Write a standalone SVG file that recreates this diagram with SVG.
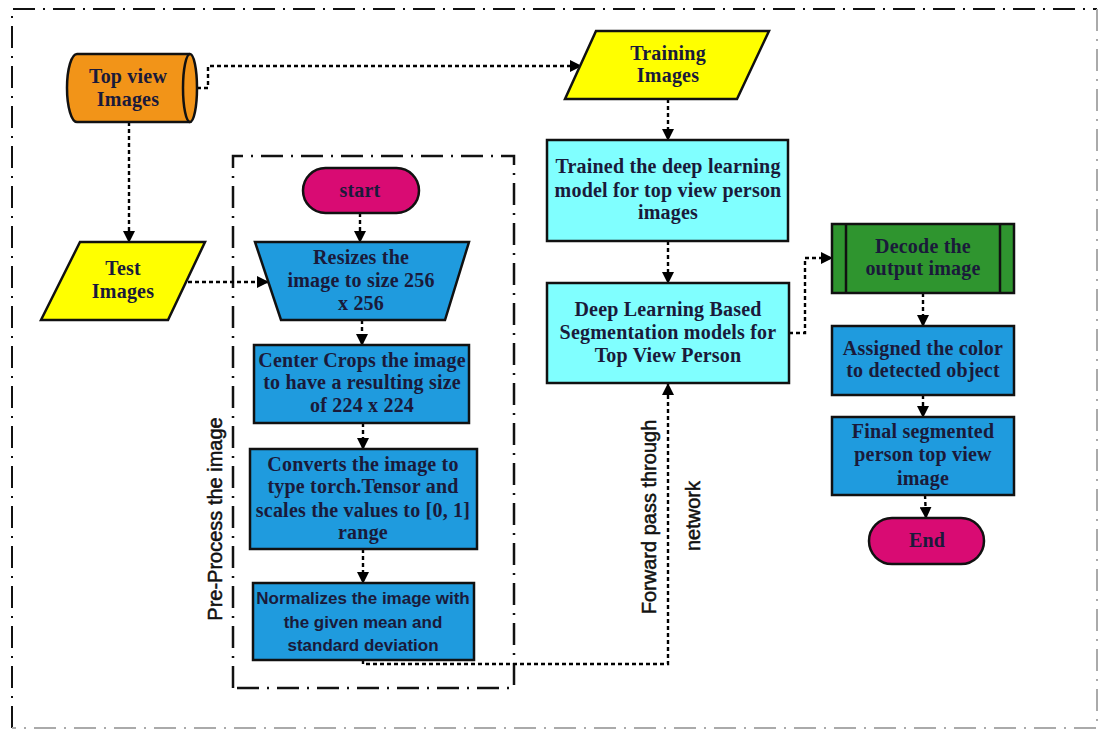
<svg xmlns="http://www.w3.org/2000/svg" width="1100" height="733" viewBox="0 0 1100 733">
<defs>
<marker id="arr" markerWidth="12" markerHeight="12" refX="11" refY="6" orient="auto" markerUnits="userSpaceOnUse">
<path d="M0,0 L12,6 L0,12 Z" fill="#000"/>
</marker>
<style>
.node{stroke:#111;stroke-width:2.5}
.t{font-family:"Liberation Serif","Times New Roman",serif;font-weight:bold;font-size:20px;fill:#1a1a3a;text-anchor:middle;letter-spacing:0.2px}
.ts{font-family:"Liberation Sans",Arial,sans-serif;font-weight:bold;font-size:17px;fill:#1a1a3a;text-anchor:middle}
.lbl{font-family:"Liberation Sans",Arial,sans-serif;font-size:20px;fill:#111;stroke:#111;stroke-width:0.5;text-anchor:middle}
.c{fill:none;stroke:#000;stroke-width:2.4;stroke-dasharray:4 3}
.border{fill:none;stroke:#111;stroke-width:2;stroke-dasharray:22 8 2 8}
.orange{fill:#F29418}.yellow{fill:#FFFF00}.mag{fill:#D90B73}.cyan{fill:#80FFFF}.blue{fill:#1F9BDE}.green{fill:#2F952F}
</style>
</defs>
<rect width="1100" height="733" fill="#fff"/>
<g id="frame">
<path class="border" d="M12,728 L12,9 L1097,9"/>
<path class="border" d="M1097,9 L1097,728 L12,728" style="stroke:#aaa"/>
<path class="border" d="M233,688 L233,156 L514,156 L514,688 Z" style="stroke-width:2.5"/>
</g>
<g id="connectors">
<path class="c" d="M197,88 L208,88 L208,66 L581,66" marker-end="url(#arr)"/>
<path class="c" d="M129,122 L129,242" marker-end="url(#arr)"/>
<path class="c" d="M188,282 L268,282" marker-end="url(#arr)"/>
<path class="c" d="M360,213 L360,242" marker-end="url(#arr)"/>
<path class="c" d="M362,320 L362,345" marker-end="url(#arr)"/>
<path class="c" d="M363,423 L363,449" marker-end="url(#arr)"/>
<path class="c" d="M363,549 L363,583" marker-end="url(#arr)"/>
<path class="c" d="M363,660 L363,664 L668,664 L668,384" marker-end="url(#arr)"/>
<path class="c" d="M668,99 L668,140" marker-end="url(#arr)"/>
<path class="c" d="M668,241 L668,283" marker-end="url(#arr)"/>
<path class="c" d="M789,333 L805,333 L805,258 L832,258" marker-end="url(#arr)"/>
<path class="c" d="M923,293 L923,326" marker-end="url(#arr)"/>
<path class="c" d="M923,395 L923,417" marker-end="url(#arr)"/>
<path class="c" d="M925,495 L926,518" marker-end="url(#arr)"/>
</g>
<g id="topview">
<path class="node orange" d="M77,54 L190,54 A7,34 0 0 1 190,122 L77,122 A10,34 0 0 1 77,54 Z"/>
<path fill="none" stroke="#111" stroke-width="2.5" d="M190,54 A7,34 0 0 0 190,122"/>
<text class="t" x="128" y="83">Top view</text>
<text class="t" x="128" y="106">Images</text>
</g>
<g id="training">
<polygon class="node yellow" points="596,31 769,31 737,99 565,99"/>
<text class="t" x="668" y="60">Training</text>
<text class="t" x="668" y="82">Images</text>
</g>
<g id="test">
<polygon class="node yellow" points="80,242 205,242 168,320 41,320"/>
<text class="t" x="123" y="275">Test</text>
<text class="t" x="123" y="298">Images</text>
</g>
<g id="preprocess-label">
<text class="lbl" transform="translate(222,519) rotate(-90)">Pre-Process the image</text>
</g>
<g id="start">
<rect class="node mag" x="303" y="168" width="116" height="45" rx="22.5"/>
<text class="t" x="360" y="197">start</text>
</g>
<g id="resize">
<polygon class="node blue" points="255,242 469,242 445,320 281,320"/>
<text class="t" x="361" y="264">Resizes the</text>
<text class="t" x="361" y="287">image to size 256</text>
<text class="t" x="361" y="310">x 256</text>
</g>
<g id="crop">
<rect class="node blue" x="254" y="345" width="215" height="78"/>
<text class="t" x="362" y="367">Center Crops the image</text>
<text class="t" x="362" y="389">to have a resulting size</text>
<text class="t" x="362" y="412">of 224 x 224</text>
</g>
<g id="convert">
<rect class="node blue" x="250" y="449" width="227" height="100"/>
<text class="t" x="363" y="471">Converts the image to</text>
<text class="t" x="363" y="493">type torch.Tensor and</text>
<text class="t" x="363" y="517">scales the values to [0, 1]</text>
<text class="t" x="363" y="539">range</text>
</g>
<g id="normalize">
<rect class="node blue" x="253" y="583" width="221" height="77"/>
<text class="ts" x="363" y="604">Normalizes the image with</text>
<text class="ts" x="363" y="628">the given mean and</text>
<text class="ts" x="363" y="651">standard deviation</text>
</g>
<g id="trained">
<rect class="node cyan" x="547" y="140" width="241" height="101"/>
<text class="t" x="668" y="173">Trained the deep learning</text>
<text class="t" x="668" y="197">model for top view person</text>
<text class="t" x="668" y="219">images</text>
</g>
<g id="deep">
<rect class="node cyan" x="547" y="283" width="242" height="100"/>
<text class="t" x="668" y="316">Deep Learning Based</text>
<text class="t" x="668" y="339">Segmentation models for</text>
<text class="t" x="668" y="362">Top View Person</text>
</g>
<g id="forward-label">
<text class="lbl" transform="translate(656,517) rotate(-90)">Forward pass through</text>
<text class="lbl" transform="translate(700,516) rotate(-90)">network</text>
</g>
<g id="decode">
<rect class="node green" x="832" y="224" width="182" height="69"/>
<line x1="846" y1="224" x2="846" y2="293" stroke="#111" stroke-width="2.5"/>
<line x1="1000" y1="224" x2="1000" y2="293" stroke="#111" stroke-width="2.5"/>
<text class="t" x="923" y="253">Decode the</text>
<text class="t" x="923" y="275">output image</text>
</g>
<g id="assigned">
<rect class="node blue" x="832" y="326" width="182" height="69"/>
<text class="t" x="923" y="355">Assigned the color</text>
<text class="t" x="923" y="377">to detected object</text>
</g>
<g id="final">
<rect class="node blue" x="832" y="417" width="182" height="78"/>
<text class="t" x="923" y="438">Final segmented</text>
<text class="t" x="923" y="461">person top view</text>
<text class="t" x="923" y="485">image</text>
</g>
<g id="end">
<rect class="node mag" x="869" y="518" width="115" height="46" rx="23"/>
<text class="t" x="927" y="547">End</text>
</g>
</svg>
